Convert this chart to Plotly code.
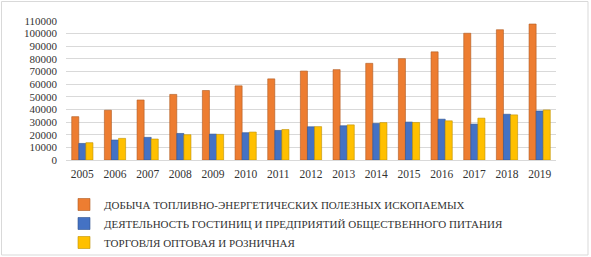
import plotly.graph_objects as go

years = ["2005", "2006", "2007", "2008", "2009", "2010", "2011", "2012",
         "2013", "2014", "2015", "2016", "2017", "2018", "2019"]

mining = [34300, 39400, 47500, 51900, 55000, 58700, 64200, 70400,
          71500, 76500, 80200, 85600, 100300, 103100, 107600]
hotels = [13100, 15800, 17900, 21000, 20500, 21600, 23400, 26300,
          27100, 28900, 30000, 32300, 28400, 36200, 38800]
trade = [13700, 17100, 16600, 20000, 20300, 22100, 24100, 26400,
         27800, 29600, 29700, 31000, 33100, 35700, 39600]

names = [
    "ДОБЫЧА ТОПЛИВНО-ЭНЕРГЕТИЧЕСКИХ ПОЛЕЗНЫХ ИСКОПАЕМЫХ",
    "ДЕЯТЕЛЬНОСТЬ ГОСТИНИЦ И ПРЕДПРИЯТИЙ ОБЩЕСТВЕННОГО ПИТАНИЯ",
    "ТОРГОВЛЯ ОПТОВАЯ И РОЗНИЧНАЯ",
]
colors = ["#ED7D31", "#4472C4", "#FFC000"]
edges = ["#AE5A21", "#2F528F", "#BF9000"]
y_ticks = list(range(0, 110001, 10000))

SERIF = "Liberation Serif, Times New Roman, Times, serif"

W, H = 591, 257
L, R, T, B = 66, 35, 21, 97
pw, ph = W - L - R, H - T - B

fig = go.Figure()
for vals, nm, c, e in zip([mining, hotels, trade], names, colors, edges):
    fig.add_trace(go.Bar(x=years, y=vals, name=nm,
                         marker=dict(color=c, line=dict(color=e, width=0.6))))

def px_x(p):
    return (p - L) / pw

def px_y(p):
    return (H - B - p) / ph

fig.update_layout(
    width=W, height=H,
    margin=dict(l=L, r=R, t=T, b=B, autoexpand=False),
    paper_bgcolor="white", plot_bgcolor="white",
    barmode="group", bargap=0.35, bargroupgap=0,
    font=dict(family=SERIF, size=11, color="#333333"),
    showlegend=True,
    legend=dict(orientation="v", xref="container", yref="container",
                x=64 / W, y=1 - 190 / H,
                xanchor="left", yanchor="top",
                font=dict(family=SERIF, size=11, color="#333333"),
                bgcolor="rgba(0,0,0,0)", itemclick=False,
                tracegroupgap=0),
    xaxis=dict(showgrid=False, showline=False, zeroline=False,
               tickfont=dict(family=SERIF, size=11.5), ticks="",
               ticklabelstandoff=5),
    yaxis=dict(range=[0, 110000], tickvals=y_ticks,
               ticktext=[str(v) for v in y_ticks],
               showgrid=True, gridcolor="#D9D9D9", gridwidth=1,
               zeroline=True, zerolinecolor="#D9D9D9", zerolinewidth=1,
               showline=False, ticks="", ticklabelstandoff=8,
               tickfont=dict(family=SERIF, size=11)),
    shapes=[dict(type="rect", xref="paper", yref="paper",
                 x0=px_x(1.5), x1=px_x(588), y0=px_y(255), y1=px_y(1.5),
                 line=dict(color="#D9D9D9", width=1), layer="below")],
)

fig.write_html("out.html")
